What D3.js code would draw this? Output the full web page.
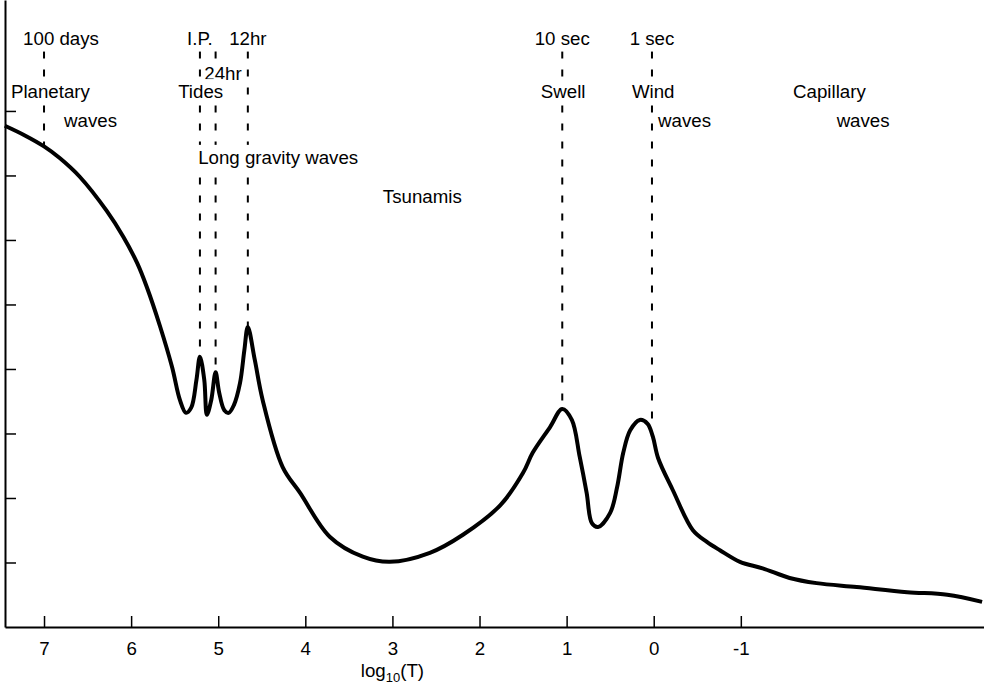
<!DOCTYPE html>
<html>
<head>
<meta charset="utf-8">
<script src="https://cdn.jsdelivr.net/npm/d3@7"></script>
<style>
  body { margin: 0; background: #fff; }
  svg { display: block; font-family: "Liberation Sans", Arial, Helvetica, sans-serif; }
  .label { font-size: 18.7px; fill: #000; }
</style>
</head>
<body>
<div id="chart"></div>
<script>
// spectrum curve: x = log10(T), y = relative energy
const logT = [7.45, 7.22, 7.00, 6.82, 6.59, 6.28, 6.09, 5.93, 5.82, 5.67, 5.53, 5.44, 5.37, 5.31, 5.25, 5.21,
              5.16, 5.13, 5.08, 5.03, 4.99, 4.93, 4.88, 4.82, 4.75, 4.70, 4.66, 4.58, 4.49, 4.26, 4.06, 3.72,
              3.34, 3.03, 2.57, 2.19, 1.76, 1.50, 1.39, 1.19, 1.05, 0.94, 0.85, 0.77, 0.71, 0.64, 0.50, 0.42,
              0.35, 0.27, 0.16, 0.07, 0.01, -0.05, -0.22, -0.45, -0.61, -0.76, -0.99, -1.25, -1.56, -1.87,
              -2.33, -2.91, -3.37, -3.77];
const energy = [7.77, 7.62, 7.45, 7.27, 6.98, 6.45, 6.05, 5.64, 5.27, 4.67, 4.03, 3.52, 3.32, 3.40, 3.83, 4.19,
                3.83, 3.29, 3.52, 3.95, 3.64, 3.36, 3.32, 3.44, 3.78, 4.29, 4.65, 4.14, 3.52, 2.48, 2.08, 1.40,
                1.09, 1.01, 1.15, 1.43, 1.89, 2.39, 2.70, 3.10, 3.38, 3.21, 2.64, 2.08, 1.61, 1.55, 1.77, 2.17,
                2.70, 3.05, 3.21, 3.15, 2.95, 2.62, 2.12, 1.50, 1.32, 1.19, 1.01, 0.91, 0.76, 0.68,
                0.62, 0.54, 0.50, 0.39];

// dashed period markers
const markerLogT = [7.00, 5.21, 5.03, 4.66, 1.05, 0.02];
const markerLevel = [7.45, 4.19, 3.95, 4.65, 3.38, 3.09];
const markerTop = 8.92;

// text annotations
const labelText = ["100 days", "I.P.", "12hr", "10 sec", "1 sec", "24hr", "Planetary", "Tides", "Swell", "Wind",
                   "Capillary", "waves", "waves", "waves", "Long gravity waves", "Tsunamis"];
const labelLogT = [7.24, 5.21, 4.66, 1.05, 0.02, 5.16, 7.38, 5.46, 1.04, 0.25, -1.60, 6.77, -0.05, -2.10, 5.23, 3.11];
const labelLevel = [9.02, 9.02, 9.02, 9.02, 9.02, 8.48, 8.20, 8.20, 8.20, 8.20, 8.20, 7.75, 7.75, 7.75, 7.18, 6.57];
const labelAnchor = ["start", "middle", "middle", "middle", "middle", "start", "start", "start", "middle", "start",
                     "start", "start", "start", "start", "start", "start"];

const xTicks = [7, 6, 5, 4, 3, 2, 1, 0, -1];
const yTicks = [1, 2, 3, 4, 5, 6, 7, 8];

const width = 984, height = 691;
const left = 5, bottom = 627;

const x = d3.scaleLinear().domain([7.448, -3.792]).range([left, width]);
const y = d3.scaleLinear().domain([0, 9.72]).range([bottom, 0]);

const svg = d3.select("#chart").append("svg")
    .attr("width", width)
    .attr("height", height);

// axes
const xAxis = svg.append("g")
    .attr("transform", "translate(0," + bottom + ")")
    .call(d3.axisBottom(x).tickValues(xTicks).tickSize(-11).tickSizeOuter(0).tickPadding(15)
        .tickFormat(d => String(d)));
xAxis.select(".domain").attr("stroke-width", 2);
xAxis.selectAll(".tick line").attr("stroke-width", 1.5);
xAxis.selectAll(".tick text").attr("font-size", 18.7).attr("font-family", null).attr("fill", "#000");

const yAxis = svg.append("g")
    .attr("transform", "translate(" + left + ",0)")
    .call(d3.axisLeft(y).tickValues(yTicks).tickSize(-11).tickSizeOuter(0).tickFormat(""));
yAxis.select(".domain").attr("stroke-width", 2);
yAxis.selectAll(".tick line").attr("stroke-width", 1.5);

// axis title
const title = svg.append("text")
    .attr("class", "label")
    .attr("x", x(3))
    .attr("y", 677)
    .attr("text-anchor", "middle");
title.append("tspan").text("log");
title.append("tspan").attr("font-size", 13).attr("dy", 5).text("10");
title.append("tspan").attr("dy", -5).text("(T)");

// dashed markers
svg.selectAll("line.marker")
    .data(markerLogT)
    .enter()
    .append("line")
    .attr("class", "marker")
    .attr("x1", d => x(d))
    .attr("x2", d => x(d))
    .attr("y1", y(markerTop))
    .attr("y2", (d, i) => y(markerLevel[i]))
    .attr("stroke", "#000")
    .attr("stroke-width", 2)
    .attr("stroke-dasharray", "7,11");

// labels with white boxes that break the dashed lines
const labels = svg.selectAll("g.annot")
    .data(labelText)
    .enter()
    .append("g")
    .attr("class", "annot");

labels.append("text")
    .attr("class", "label")
    .attr("x", (d, i) => x(labelLogT[i]))
    .attr("y", (d, i) => y(labelLevel[i]))
    .attr("text-anchor", (d, i) => labelAnchor[i])
    .text(d => d);

labels.each(function() {
    const g = d3.select(this);
    const b = g.select("text").node().getBBox();
    g.insert("rect", "text")
        .attr("x", b.x - 2)
        .attr("y", b.y - 2)
        .attr("width", b.width + 4)
        .attr("height", b.height + 4)
        .attr("fill", "#fff");
});

// the spectrum
const line = d3.line()
    .x(d => x(d[0]))
    .y(d => y(d[1]))
    .curve(d3.curveCatmullRom.alpha(0.5));

svg.append("path")
    .datum(d3.zip(logT, energy))
    .attr("fill", "none")
    .attr("stroke", "#000")
    .attr("stroke-width", 4)
    .attr("stroke-linejoin", "round")
    .attr("d", line);
</script>
</body>
</html>
